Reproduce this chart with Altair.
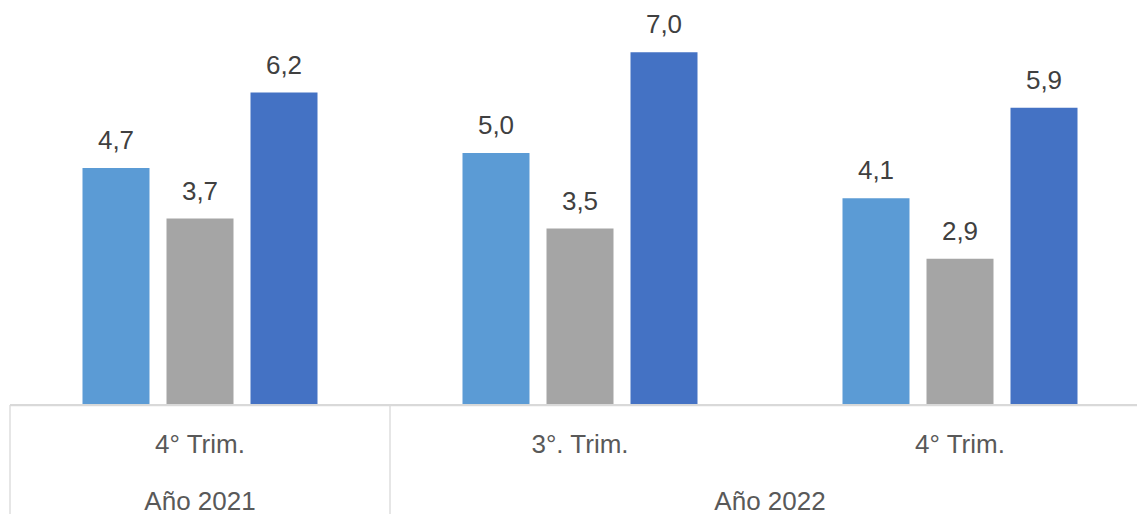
import altair as alt
import pandas as pd

groups = ["2021-4T", "2022-3T", "2022-4T"]
quarter_labels = ["4° Trim.", "3°. Trim.", "4° Trim."]
years = ["Año 2021", "Año 2022"]
series = ["Serie 1", "Serie 2", "Serie 3"]
colors = ["#5B9BD5", "#A5A5A5", "#4472C4"]
serie1 = [4.7, 5.0, 4.1]
serie2 = [3.7, 3.5, 2.9]
serie3 = [6.2, 7.0, 5.9]

rows = []
for i, g in enumerate(groups):
    for s, vals in zip(series, [serie1, serie2, serie3]):
        v = vals[i]
        rows.append({"grupo": g, "serie": s, "valor": v,
                     "etiqueta": f"{v:.1f}".replace(".", ",")})
df = pd.DataFrame(rows)

qdf = pd.DataFrame({"grupo": groups, "texto": quarter_labels})
y2021 = pd.DataFrame({"grupo": [groups[0]], "texto": [years[0]]})
y2022 = pd.DataFrame({"grupo": [groups[2]], "texto": [years[1]]})
bounds = pd.DataFrame({"grupo": [groups[0], groups[1]]})

W, H = 1127, 397
FONT = "Liberation Sans"
FS = 26

xaxis = alt.Axis(labels=False, ticks=False, title=None,
                 domainColor="#D9D9D9", domainWidth=1.3, grid=False)
xscale = alt.Scale(domain=groups, range=[0, 1140], paddingInner=0, paddingOuter=0)
xenc = alt.X("grupo:N", scale=xscale, sort=groups, axis=xaxis)
xedge = alt.X("grupo:N", scale=xscale, sort=groups, axis=xaxis, bandPosition=0)
yenc = alt.Y("valor:Q", scale=alt.Scale(domain=[0, 7.877]), axis=None)
xoff = alt.XOffset("serie:N", sort=series,
                   scale=alt.Scale(paddingInner=0.2024, paddingOuter=0.863))

base = alt.Chart(df)
bars = base.mark_bar().encode(
    x=xenc, y=yenc, xOffset=xoff,
    color=alt.Color("serie:N", scale=alt.Scale(domain=series, range=colors), legend=None),
)
labels = base.mark_text(font=FONT, fontSize=FS, color="#404040", dy=-19,
                        baseline="alphabetic").encode(
    x=xenc, y=yenc, xOffset=xoff, text="etiqueta:N")

baseline = alt.Chart(qdf).mark_rule(color="#D9D9D9", strokeWidth=1.3).encode(
    x=alt.value(0), x2=alt.value(1140), y=alt.value(H))
qtext = alt.Chart(qdf).mark_text(font=FONT, fontSize=FS, color="#595959",
                                 baseline="alphabetic").encode(
    x=xenc, y=alt.value(H + 48), text="texto:N")
ytext1 = alt.Chart(y2021).mark_text(font=FONT, fontSize=FS, color="#595959",
                                    baseline="alphabetic").encode(
    x=xenc, y=alt.value(H + 105), text="texto:N")
ytext2 = alt.Chart(y2022).mark_text(font=FONT, fontSize=FS, color="#595959",
                                    baseline="alphabetic").encode(
    x=xedge, y=alt.value(H + 105), text="texto:N")
vrules = alt.Chart(bounds).mark_rule(color="#D9D9D9", strokeWidth=1.3).encode(
    x=xedge, y=alt.value(H), y2=alt.value(H + 112))

chart = alt.layer(bars, labels, baseline, qtext, ytext1, ytext2, vrules).properties(
    width=W, height=H,
    background="white",
    autosize=alt.AutoSizeParams(type="none"),
    padding={"left": 2, "top": 0, "right": 0, "bottom": 112},
).configure_view(stroke=None)

chart.save("out.html", embed_options={"renderer": "svg", "actions": False})
